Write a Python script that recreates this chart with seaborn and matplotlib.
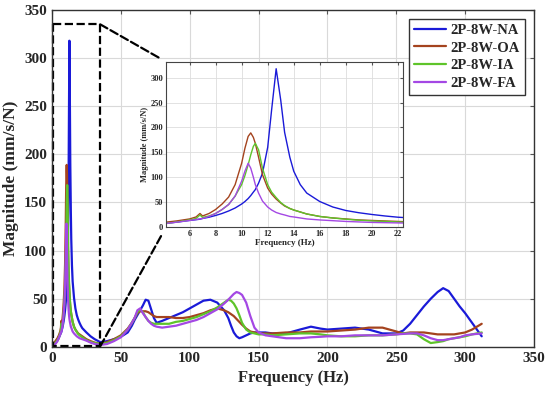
import numpy as np
import pandas as pd
import matplotlib
matplotlib.use("Agg")
import matplotlib.pyplot as plt
from matplotlib.patches import ConnectionPatch
import seaborn as sns

# valeurs (Hz, mm/s/N)
freq = [0, 1, 2, 3, 4, 4.5, 5, 6, 6.5, 6.8, 7, 7.5, 8, 8.5, 9, 9.5, 10, 10.25, 10.5, 10.7,
        10.9, 11.05, 11.3, 11.6, 12, 12.3, 12.65, 13, 13.3, 13.7, 14, 14.5, 15, 16, 17, 18,
        19, 20, 21, 22, 25, 28, 31, 35, 40, 45, 50, 55, 58, 60, 62, 64, 66, 68, 70, 72,
        74, 76, 80, 85, 90, 95, 100, 105, 110, 115, 120, 125, 128, 130, 132, 134, 136, 138,
        141, 144, 147, 150, 155, 160, 170, 180, 188, 195, 200, 210, 220, 230, 240, 250,
        255, 260, 265, 270, 275, 280, 284, 288, 292, 296, 300, 305, 312]

mag_na = [1, 2, 3, 5, 7, 8, 9.5, 13, 14.5, 15.5, 17, 19.5, 23, 27, 32, 38, 46, 51, 57, 63,
          70, 75, 88, 108, 160, 235, 318, 255, 190, 140, 112, 85, 68, 51, 40, 33,
          28.5, 25, 22, 19.5, 15, 11, 8, 5, 6, 8, 10.5, 15, 22, 28, 33, 38, 43, 49, 48, 39,
          30, 25, 27, 30, 33, 36, 40, 44, 48, 49, 46, 38, 30, 22, 15, 11, 9, 10,
          12, 14, 15, 15, 15, 14, 14, 18, 21, 19, 18, 19, 20, 18, 14, 14,
          17, 24, 33, 42, 50, 57, 61, 58, 50, 42, 35, 25, 11]

mag_oa = [1, 3, 5, 7, 9, 10.5, 12, 16, 20, 27, 22, 27, 35, 46, 60, 85, 128, 158, 182, 189,
          180, 168, 140, 105, 78, 66, 56, 48, 42, 37, 34, 30, 26, 21, 18, 16,
          14, 13, 12, 11, 8, 6, 4.5, 3, 5, 8, 12, 19, 25, 30, 35, 37, 37, 37, 36, 34,
          32, 31, 31, 31, 30, 30, 31, 33, 35, 38, 40, 38, 36, 34, 32, 29, 26, 23,
          19, 16, 15, 14, 14, 14, 15, 15, 16, 16, 16, 17, 18, 20, 20, 16,
          14, 15, 15, 15, 14, 13, 13, 13, 13, 14, 15, 18, 24]

mag_ia = [1, 2, 3.5, 5, 7, 8, 10, 14, 17, 24, 19, 22, 27, 35, 45, 62, 85, 103, 125, 145,
          162, 168, 155, 118, 85, 70, 59, 49, 43, 37, 34, 30, 26, 21, 18, 15.5,
          13.5, 12, 11, 10, 7, 5, 4, 3, 4, 7, 11, 18, 25, 30, 36, 39, 36, 31, 27, 25,
          24, 24, 24, 24, 26, 27, 29, 31, 34, 37, 41, 46, 49, 48, 45, 40, 33, 25,
          18, 15, 14, 13, 13, 12, 13, 14, 14, 13, 12, 11, 11, 12, 12, 13,
          14, 14, 13, 8, 4, 5, 6, 8, 9, 10, 11, 13, 15]

mag_fa = [0.5, 1.5, 2.5, 4, 6, 8, 9.5, 13, 15, 16, 17, 21, 27, 35, 45, 62, 92, 112, 128, 118,
          100, 85, 68, 52, 40, 34, 29, 26, 24, 21, 20, 18, 16, 14, 12.5, 11,
          10, 9, 8.5, 8, 6.5, 4.5, 3, 2, 3, 6, 10, 18, 25, 30, 38, 40, 35, 31, 27, 24,
          22, 21, 20, 21, 22, 24, 26, 28, 31, 35, 39, 45, 49, 52, 55, 57, 56, 54,
          46, 32, 20, 15, 12, 11, 9, 9, 10, 10.5, 11, 11, 12, 12, 12, 13,
          13.5, 14, 14, 12, 9, 7, 7, 8, 9, 10, 12, 13, 14]

labels = ["2P-8W-NA", "2P-8W-OA", "2P-8W-IA", "2P-8W-FA"]
colors = ["#1a1ad8", "#a4431e", "#5ec42a", "#a448e4"]

df = pd.DataFrame({"freq": freq, labels[0]: mag_na, labels[1]: mag_oa,
                   labels[2]: mag_ia, labels[3]: mag_fa})
long_df = df.melt(id_vars="freq", var_name="case", value_name="mag")

sns.set_style("whitegrid")
plt.rcParams["font.family"] = ["Liberation Serif", "DejaVu Serif"]
plt.rcParams["font.weight"] = "bold"
plt.rcParams["xtick.direction"] = "in"
plt.rcParams["ytick.direction"] = "in"

fig = plt.figure(figsize=(5.5, 3.96), dpi=100)
ax = fig.add_axes([0.0945, 0.124, 0.8765, 0.851])

sns.lineplot(data=long_df, x="freq", y="mag", hue="case", palette=colors,
             hue_order=labels, sort=False, estimator=None, linewidth=1.6, ax=ax)

ax.set_xlim(0, 350)
ax.set_ylim(0, 350)
ax.set_xticks(np.arange(0, 351, 50))
ax.set_yticks(np.arange(0, 351, 50))
ax.tick_params(labelsize=11, length=3, color="#555555", top=True, right=True)
ax.grid(True, color="#d9d9d9", linewidth=0.8)
for s in ax.spines.values():
    s.set_edgecolor("#333333")
    s.set_linewidth(1.0)
ax.set_xlabel("Frequency (Hz)", fontsize=12, fontweight="bold")
ax.set_ylabel("Magnitude (mm/s/N)", fontsize=12.5, fontweight="bold")

leg = ax.legend(loc="upper right", fontsize=10.5, handlelength=2.2, fancybox=False,
                framealpha=1, edgecolor="#333333", borderpad=0.35, labelspacing=0.3,
                handletextpad=0.3, borderaxespad=0.6)
leg.get_frame().set_linewidth(1.0)
for t in leg.get_texts():
    t.set_fontweight("bold")

# cadre de zoom
ax.plot([0.5, 35, 35, 0.5, 0.5], [335, 335, 0.5, 0.5, 335], "k--", linewidth=1.6,
        clip_on=False)

# encart
axin = fig.add_axes([0.302, 0.427, 0.431, 0.417])
sns.lineplot(data=long_df, x="freq", y="mag", hue="case", palette=colors,
             hue_order=labels, sort=False, estimator=None, linewidth=1.0,
             legend=False, ax=axin)
axin.set_xlim(4.2, 22.4)
axin.set_ylim(0, 332)
axin.set_xticks(np.arange(6, 23, 2))
axin.set_yticks(np.arange(0, 301, 50))
axin.tick_params(labelsize=6, length=2, pad=2, color="#555555", top=True, right=True)
axin.grid(True, color="#dddddd", linewidth=0.6)
for s in axin.spines.values():
    s.set_edgecolor("#444444")
    s.set_linewidth(0.8)
axin.set_xlabel("Frequency (Hz)", fontsize=6.5, fontweight="bold", labelpad=1)
axin.set_ylabel("Magnitude (mm/s/N)", fontsize=6, fontweight="bold", labelpad=1)

for ya, yb in [(335, 1), (0.5, 0)]:
    con = ConnectionPatch(xyA=(35, ya), coordsA=ax.transData,
                          xyB=(0, yb), coordsB=axin.transAxes,
                          linestyle="--", color="black", linewidth=1.6, shrinkB=6)
    fig.add_artist(con)

fig.savefig("out.png", dpi=100)
